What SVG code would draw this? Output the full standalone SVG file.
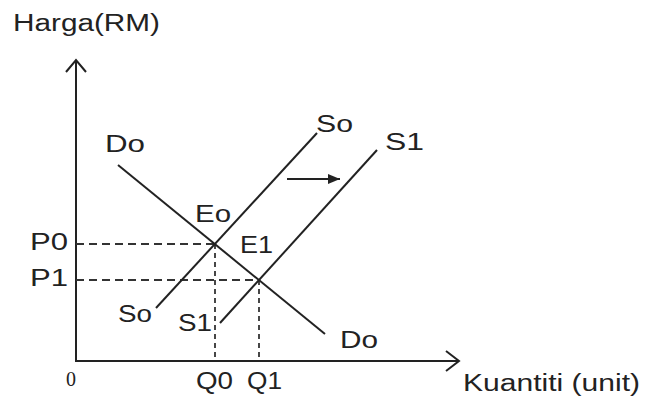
<svg xmlns="http://www.w3.org/2000/svg" width="646" height="400" viewBox="0 0 646 400">
<defs>
<style>
.t{font-family:"Liberation Sans",Arial,sans-serif;font-size:23px;fill:#222}
.ln{stroke:#222;stroke-width:2;fill:none}
.ds{stroke:#333;stroke-width:1.8;fill:none;stroke-dasharray:8 5}
.dv{stroke:#333;stroke-width:1.8;fill:none;stroke-dasharray:5 4}
</style>
<marker id="ah" viewBox="0 0 12 10" refX="12" refY="5" markerWidth="13" markerHeight="10" orient="auto" markerUnits="userSpaceOnUse">
<path d="M0,0 L12,5 L0,10 Z" fill="#222"/>
</marker>
</defs>
<rect width="646" height="400" fill="#fff"/>
<g id="axes">
<path class="ln" d="M76,60 L76,361 L458,361"/>
<path class="ln" d="M66,72 L76,60 L86,72"/>
<path class="ln" d="M446,351 L459,361 L446,371"/>
</g>
<g id="connectors">
<path class="ds" d="M76,244 L215,244"/>
<path class="ds" d="M76,280 L259,280"/>
<path class="dv" d="M215,244 L215,361"/>
<path class="dv" d="M259,280 L259,361"/>
<path class="ln" d="M118,165 L325,334"/>
<path class="ln" d="M317,133 L156,308"/>
<path class="ln" d="M377,150 L220,323"/>
<path stroke="#222" stroke-width="2" d="M287,179 L340,179" marker-end="url(#ah)"/>
</g>
<g id="labels">
<text class="t" x="13" y="31" font-size="24" textLength="147" lengthAdjust="spacingAndGlyphs">Harga(RM)</text>
<text class="t" x="105" y="152" textLength="40" lengthAdjust="spacingAndGlyphs">Do</text>
<text class="t" x="316" y="132" textLength="37" lengthAdjust="spacingAndGlyphs">So</text>
<text class="t" x="385" y="150" textLength="39" lengthAdjust="spacingAndGlyphs">S1</text>
<text class="t" x="195" y="222" textLength="36" lengthAdjust="spacingAndGlyphs">Eo</text>
<text class="t" x="240" y="253" textLength="33" lengthAdjust="spacingAndGlyphs">E1</text>
<text class="t" x="30" y="250" textLength="38" lengthAdjust="spacingAndGlyphs">P0</text>
<text class="t" x="30" y="286" textLength="38" lengthAdjust="spacingAndGlyphs">P1</text>
<text class="t" x="118" y="322" textLength="34" lengthAdjust="spacingAndGlyphs">So</text>
<text class="t" x="178" y="331" textLength="34" lengthAdjust="spacingAndGlyphs">S1</text>
<text class="t" x="340" y="348" textLength="38" lengthAdjust="spacingAndGlyphs">Do</text>
<text x="66" y="386" font-family="'Liberation Serif','Times New Roman',serif" font-size="20" fill="#222">0</text>
<text class="t" x="196" y="389" textLength="37" lengthAdjust="spacingAndGlyphs">Q0</text>
<text class="t" x="247" y="389" textLength="35" lengthAdjust="spacingAndGlyphs">Q1</text>
<text class="t" x="463" y="391" textLength="177" lengthAdjust="spacingAndGlyphs">Kuantiti (unit)</text>
</g>
</svg>
